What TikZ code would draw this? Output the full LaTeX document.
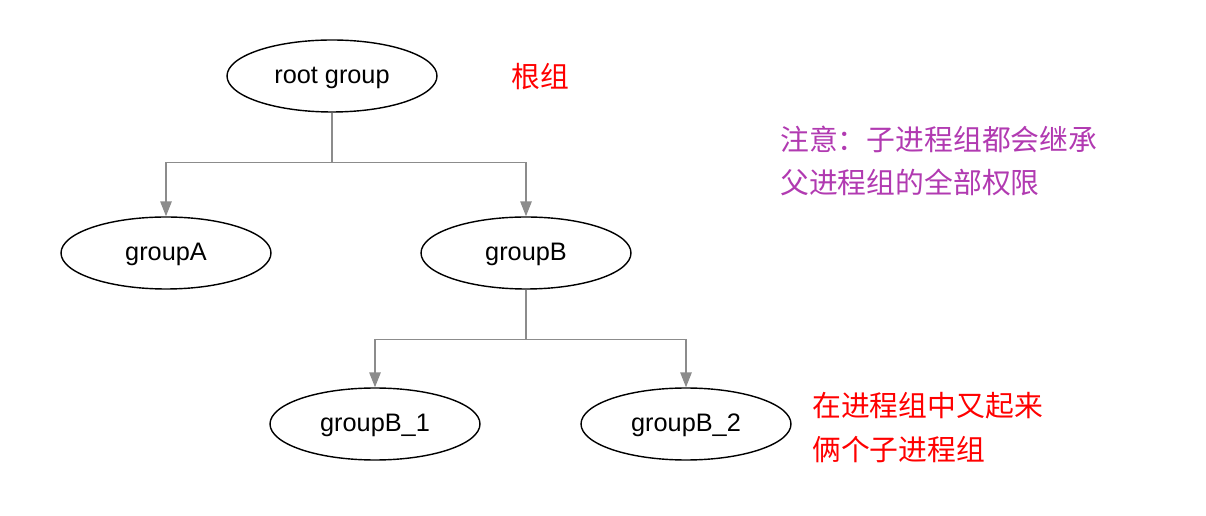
\documentclass[tikz,border=0pt]{standalone}
\usepackage{fontspec}
\setmainfont{Liberation Sans}
\newfontfamily\cjk{Noto Sans CJK SC}
\usetikzlibrary{trees,shapes.geometric,arrows.meta}
\definecolor{notepurple}{RGB}{177,58,177}
\definecolor{linkgray}{RGB}{140,140,140}

\begin{document}
\begin{tikzpicture}[x=0.02cm, y=-0.02cm,
    every node/.style={font=\fontsize{14.4pt}{17pt}\selectfont},
    group/.style={ellipse, draw=black, text=black, line width=0.8pt, minimum width=4.2cm, minimum height=1.44cm,
        inner sep=0pt, text height=0.88em, text depth=0pt},
    note/.style={font=\cjk\fontsize{16.4pt}{25pt}\selectfont, align=left, anchor=west, inner sep=0pt},
    edge from parent/.style={draw, linkgray, line width=0.8pt, -{Triangle[width=6.5pt,length=8.5pt]}},
    edge from parent path={(\tikzparentnode.south) -- ++(0,50) -| (\tikzchildnode.north)},
    level 1/.style={grow via three points={one child at (0,177) and two children at (-166,177) and (194,177)}},
    level 2/.style={grow via three points={one child at (0,171) and two children at (-151,171) and (160,171)}}]
    \useasboundingbox (0,0) rectangle (1206,516);
    \node[group] (root) at (332,76) {root group}
        child {node[group] (groupA) {groupA}}
        child {node[group] (groupB) {groupB}
            child {node[group] (groupB1) {groupB\_1}}
            child {node[group] (groupB2) {groupB\_2}}
        };
    \node[note, text=red] (rootnote) at (511,77) {根组};
    \node[note, text=notepurple] (inheritnote) at (780,161) {注意：子进程组都会继承\\父进程组的全部权限};
    \node[note, text=red] (spawnnote) at (812,428) {在进程组中又起来\\俩个子进程组};
\end{tikzpicture}
\end{document}
